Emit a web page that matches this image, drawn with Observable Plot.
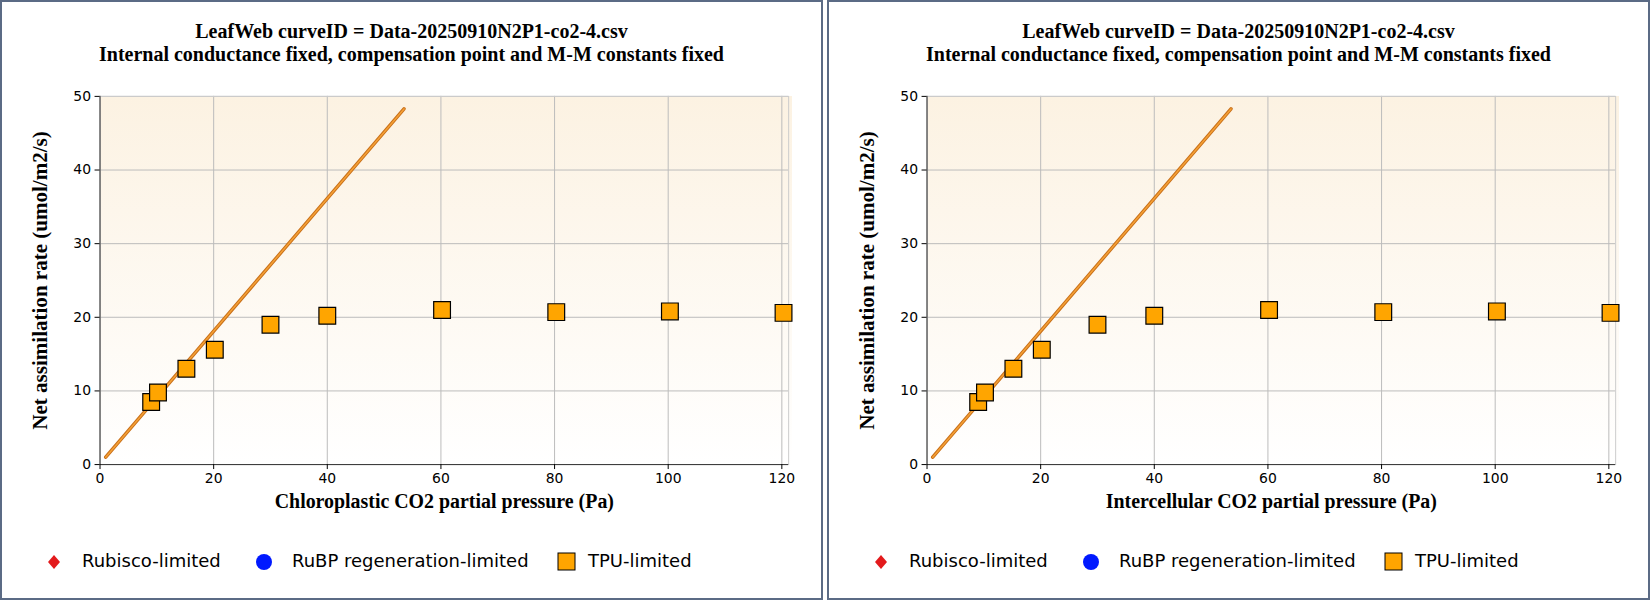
<!DOCTYPE html>
<html><head><meta charset="utf-8">
<script src="https://cdn.jsdelivr.net/npm/d3@7"></script>
<script src="https://cdn.jsdelivr.net/npm/@observablehq/plot@0.6"></script>
<style>
body{margin:0;background:#fff;width:1650px;height:600px;position:relative;overflow:hidden}
.panel{position:absolute;top:0;width:819px;height:596px;border:2px solid #5b6b85;background:#fff}
.title{position:absolute;left:0;width:100%;text-align:center;font:bold 20px "Liberation Serif",serif;color:#000}
.bg{position:absolute;left:98px;top:94px;width:692px;height:370px;background:linear-gradient(#fcf2e2,#ffffff)}
.chart{position:absolute;left:0;top:70px;overflow:visible}
.leg{position:absolute;top:548px;font:18px "DejaVu Sans",sans-serif;color:#000}
</style></head><body>
<script>
const ciX=[9,10.2,15.2,20.2,30,40,60.2,80.3,100.3,120.3];
const anY=[8.5,9.8,13,15.6,19,20.2,21,20.7,20.8,20.6];
const lineX=[1,53.5];
const lineY=[1,48.3];
const xTicks=[0,20,40,60,80,100,120];
const yTicks=[0,10,20,30,40,50];
const xLabels=["Chloroplastic CO2 partial pressure (Pa)","Intercellular CO2 partial pressure (Pa)"];
const yLabel="Net assimilation rate (umol/m2/s)";
const titles=["LeafWeb curveID = Data-20250910N2P1-co2-4.csv","Internal conductance fixed, compensation point and M-M constants fixed"];
const legendNames=["Rubisco-limited","RuBP regeneration-limited","TPU-limited"];

const pts=ciX.map((x,i)=>({x,y:anY[i]}));
const line=lineX.map((x,i)=>({x,y:lineY[i]}));

[0,1].forEach(p=>{
  const panel=document.createElement("div");
  panel.className="panel";panel.style.left=(p*827)+"px";
  document.body.appendChild(panel);
  panel.innerHTML=`<div class="title" style="top:18px">${titles[0]}</div><div class="title" style="top:41px">${titles[1]}</div><div class="bg"></div>`;
  const chart=Plot.plot({
    width:823,height:470,marginLeft:98,marginRight:33,marginTop:24,marginBottom:76,
    style:{background:"transparent",fontFamily:"DejaVu Sans, sans-serif",fontSize:"14px",color:"#000",overflow:"visible"},
    x:{domain:[0,121.2],ticks:xTicks,tickFormat:d=>d},
    y:{domain:[0,50],ticks:yTicks},
    marks:[
      Plot.gridX(xTicks,{stroke:"#bbb",strokeOpacity:1}),
      Plot.gridY(yTicks,{stroke:"#bbb",strokeOpacity:1}),
      Plot.frame({stroke:"#ccc"}),
      Plot.ruleY([0],{stroke:"#333"}),
      Plot.ruleX([0],{stroke:"#333"}),
      Plot.axisX(xTicks,{tickFormat:d=>d,tickSize:5,label:null,fontSize:14}),
      Plot.axisY(yTicks,{tickSize:5,label:null,fontSize:14}),
      Plot.text([xLabels[p]],{frameAnchor:"bottom",dy:44,fontSize:20,fontWeight:"bold",fontFamily:"Liberation Serif, serif",className:"xlab"}),
      Plot.text([yLabel],{frameAnchor:"left",textAnchor:"middle",dx:-60,rotate:-90,fontSize:20,fontWeight:"bold",fontFamily:"Liberation Serif, serif",className:"ylab"}),
      Plot.line(line,{x:"x",y:"y",stroke:"#c8701a",strokeWidth:3.5}),
      Plot.line(line,{x:"x",y:"y",stroke:"#f5a035",strokeWidth:1.5}),
      Plot.dot(pts,{x:"x",y:"y",symbol:"square",r:9.5,fill:"#ffa500",stroke:"#000",strokeWidth:1.2})
    ]
  });
  chart.classList.add("chart");
  panel.appendChild(chart);
  chart.querySelectorAll(".ylab text").forEach(t=>{t.setAttribute("textLength",300);t.setAttribute("lengthAdjust","spacingAndGlyphs");});
  const leg=[[52,"#e31a1c","diamond"],[262,"#0019ff","circle"],[565,"#ffa500","square"]];
  leg.forEach(([x,c,s],i)=>{
    const sym = s==="diamond" ? `<svg width="14" height="16" style="position:absolute;left:${x-7}px;top:4px"><polygon points="7,1 13,8 7,15 1,8" fill="${c}"/></svg>`
      : s==="circle" ? `<svg width="18" height="18" style="position:absolute;left:${x-9}px;top:3px"><circle cx="9" cy="9" r="8" fill="${c}"/></svg>`
      : `<svg width="20" height="20" style="position:absolute;left:${x-10}px;top:2px"><rect x="1" y="1" width="17" height="17" fill="${c}" stroke="#000"/></svg>`;
    const d=document.createElement("div");d.className="leg";d.style.left="0px";d.style.width="100%";
    d.innerHTML=sym+`<span style="position:absolute;left:${x+28-(i==2?7:0)}px;white-space:nowrap">${legendNames[i]}</span>`;
    panel.appendChild(d);
  });
});
</script>
</body></html>
